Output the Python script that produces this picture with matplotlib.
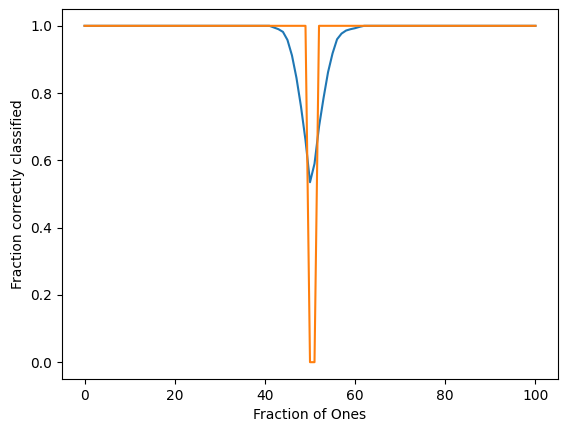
import matplotlib
matplotlib.use("Agg")
import matplotlib.pyplot as plt
import numpy as np

# fraction of ones (percent), 0..100
fraction_ones = np.arange(0, 101)

# blue curve: values that differ from 1.0 near the middle
blue_dip = {
    42: 0.995, 43: 0.99, 44: 0.982, 45: 0.958, 46: 0.912, 47: 0.845,
    48: 0.76, 49: 0.66, 50: 0.535, 51: 0.59, 52: 0.70, 53: 0.785,
    54: 0.862, 55: 0.918, 56: 0.96, 57: 0.977, 58: 0.986, 59: 0.99,
    60: 0.993, 61: 0.997,
}
# orange curve: zero only at these points
orange_zero = [50, 51]

blue = np.ones(len(fraction_ones))
for k, v in blue_dip.items():
    blue[k] = v

orange = np.ones(len(fraction_ones))
for k in orange_zero:
    orange[k] = 0.0

fig = plt.figure(figsize=(5.67, 4.32), dpi=100)
ax = fig.add_axes([62 / 567, (432 - 379) / 432, 496 / 567, 370 / 432])
ax.plot(fraction_ones, blue)
ax.plot(fraction_ones, orange)
ax.set_xlabel("Fraction of Ones")
ax.set_ylabel("Fraction correctly classified")
fig.savefig("out.png", dpi=100)
